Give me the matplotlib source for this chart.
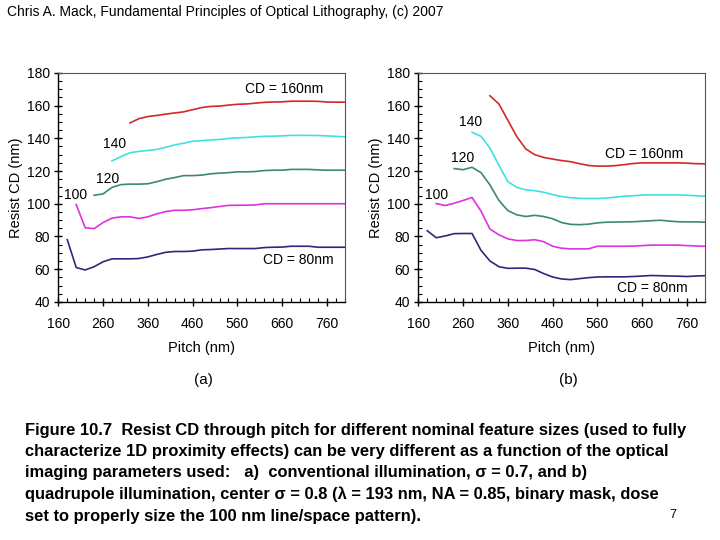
import numpy as np
import matplotlib
matplotlib.use("Agg")
import matplotlib.pyplot as plt
from matplotlib.ticker import MultipleLocator, FixedLocator

plt.rcParams['font.family'] = ['Liberation Sans', 'DejaVu Sans']

# ======== DADOS ========
pitch = list(range(180, 801, 20))   # 180 ... 800 nm
nan = np.nan

# (a) iluminacao convencional, sigma = 0.7
cd80_a = [78, 61, 59.5, 61.5, 64.5, 66.3, 66.3, 66.3, 66.5, 67.5, 69, 70.3, 70.8, 70.8, 71,
          71.8, 72, 72.3, 72.6, 72.6, 72.6, 72.6, 73.2, 73.4, 73.5, 74, 74, 74, 73.4, 73.4, 73.4, 73.4]
cd100_a = [nan, 99.5, 85.3, 84.8, 88.5, 91.2, 92, 92, 91, 92, 93.8, 95.2, 96, 96, 96.3,
           97, 97.6, 98.3, 99, 99.1, 99.1, 99.3, 100, 100, 100, 100, 100, 100, 100, 100, 100, 100]
cd120_a = [nan, nan, nan, 105.2, 106, 110, 111.7, 112, 112, 112.2, 113.5, 115, 116, 117.2, 117.2,
           117.5, 118.3, 118.7, 119, 119.5, 119.5, 119.7, 120.3, 120.5, 120.5, 121, 121, 121, 120.7, 120.5, 120.5, 120.5]
cd140_a = [nan, nan, nan, nan, nan, 126.2, 128.8, 131.2, 132, 132.6, 133.2, 134.5, 136, 137, 138.2,
           138.6, 139, 139.3, 139.9, 140.3, 140.5, 140.9, 141.2, 141.3, 141.5, 141.8, 141.8, 141.8, 141.7, 141.5, 141.2, 140.9]
cd160_a = [nan, nan, nan, nan, nan, nan, nan, 149.4, 152, 153.3, 154, 154.8, 155.5, 156.2, 157.5,
           158.8, 159.5, 159.7, 160.3, 160.8, 161, 161.5, 162, 162.2, 162.3, 162.7, 162.7, 162.7, 162.6, 162.2, 162.1, 162.1]

# (b) iluminacao quadrupolo, sigma centro = 0.8
cd80_b = [83.5, 79.2, 80.3, 81.7, 81.8, 81.8, 71.5, 65, 61.5, 60.5, 60.6, 60.6, 59.8, 57.3, 55.2,
          54, 53.6, 54.2, 54.8, 55.2, 55.3, 55.3, 55.3, 55.5, 55.8, 56.1, 56, 55.8, 55.7, 55.5, 55.8, 56]
cd100_b = [nan, 100.1, 98.9, 100.3, 102, 103.8, 95.5, 84.5, 81, 78.5, 77.5, 77.5, 78, 76.8, 74,
           72.8, 72.4, 72.4, 72.4, 74, 74, 74, 74, 74.1, 74.4, 74.7, 74.7, 74.7, 74.7, 74.4, 74.2, 74]
cd120_b = [nan, nan, nan, 121.5, 120.8, 122.3, 119, 111.5, 102, 95.8, 93.2, 92.2, 92.9, 92.2, 90.8,
           88.5, 87.4, 87.2, 87.5, 88.3, 88.7, 88.8, 88.9, 89, 89.3, 89.6, 89.9, 89.4, 89, 88.9, 88.9, 88.7]
cd140_b = [nan, nan, nan, nan, nan, 143.7, 141.2, 134, 123.5, 113.5, 110, 108.5, 108, 107, 105.6,
           104.4, 103.7, 103.3, 103.2, 103.2, 103.5, 104, 104.6, 104.9, 105.3, 105.4, 105.4, 105.4, 105.4, 105.2, 104.9, 104.6]
cd160_b = [nan, nan, nan, nan, nan, nan, nan, 166, 161, 151, 141, 133.5, 130, 128.3, 127.3,
           126.4, 125.7, 124.5, 123.4, 123, 123, 123.3, 123.9, 124.6, 125, 125, 125, 125, 125, 124.8, 124.5, 124.4]

colors = ['#2a2a7c', '#e030e0', '#3b8a68', '#3fe0e0', '#d42828']
series_a = [cd80_a, cd100_a, cd120_a, cd140_a, cd160_a]
series_b = [cd80_b, cd100_b, cd120_b, cd140_b, cd160_b]

# posicoes dos rotulos dentro dos graficos (pitch, CD)
labels = ['CD = 80nm', '100', '120', '140', 'CD = 160nm']
label_pos_a = [(695, 65.3), (198, 105.4), (271, 115.4), (286, 136.8), (664, 170.2)]
label_pos_b = [(683, 48.4), (200, 105.4), (258, 128), (276, 150.2), (664, 130.7)]

fig = plt.figure(figsize=(7.2, 5.4), dpi=100)

def draw_panel(rect, series, label_pos):
    ax = fig.add_axes(rect)
    for y, c in zip(series, colors):
        ax.plot(pitch, y, color=c, lw=1.2)
    for txt, (x, y) in zip(labels, label_pos):
        ax.text(x, y, txt, fontsize=10, ha='center', va='center')
    ax.set_xlim(160, 800)
    ax.set_ylim(40, 180)
    ax.xaxis.set_major_locator(FixedLocator(range(160, 801, 100)))
    ax.xaxis.set_minor_locator(MultipleLocator(20))
    ax.yaxis.set_major_locator(MultipleLocator(20))
    ax.yaxis.set_minor_locator(MultipleLocator(5))
    ax.tick_params(which='major', direction='inout', length=6, width=1, labelsize=10, pad=3)
    ax.tick_params(which='minor', direction='in', length=3, width=0.8)
    ax.tick_params(axis='x', which='major', pad=8)
    for s in ['top', 'right']:
        ax.spines[s].set_color('#555555')
        ax.spines[s].set_linewidth(0.8)
    for s in ['left', 'bottom']:
        ax.spines[s].set_linewidth(1.0)
    ax.set_xlabel('Pitch (nm)', fontsize=10.5, labelpad=7)
    ax.set_ylabel('Resist CD (nm)', fontsize=10.5, labelpad=3)
    return ax

draw_panel([0.081, 0.441, 0.398, 0.424], series_a, label_pos_a)
draw_panel([0.581, 0.441, 0.398, 0.424], series_b, label_pos_b)

fig.text(7 / 720, 1 - 12 / 540, 'Chris A. Mack, Fundamental Principles of Optical Lithography, (c) 2007',
         fontsize=10, ha='left', va='center')
fig.text(203 / 720, 1 - 380 / 540, '(a)', fontsize=11, ha='center', va='center')
fig.text(568 / 720, 1 - 380 / 540, '(b)', fontsize=11, ha='center', va='center')

caption = [
    'Figure 10.7  Resist CD through pitch for different nominal feature sizes (used to fully',
    'characterize 1D proximity effects) can be very different as a function of the optical',
    'imaging parameters used:   a)  conventional illumination, \u03c3 = 0.7, and b)',
    'quadrupole illumination, center \u03c3 = 0.8 (\u03bb = 193 nm, NA = 0.85, binary mask, dose',
    'set to properly size the 100 nm line/space pattern).',
]
for i, line in enumerate(caption):
    fig.text(25 / 720, 1 - (430 + i * 21.5) / 540, line, fontsize=11.9,
             fontweight='bold', ha='left', va='center')
fig.text(673 / 720, 1 - 515 / 540, '7', fontsize=9, ha='center', va='center')

fig.savefig('out.png', dpi=100)
